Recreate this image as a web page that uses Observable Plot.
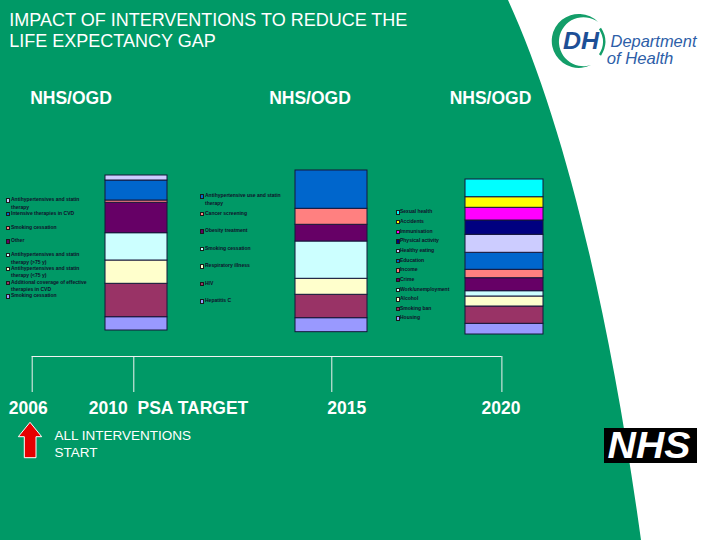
<!DOCTYPE html>
<html lang="en">
<head>
<meta charset="utf-8">
<title>Impact of interventions to reduce the life expectancy gap</title>
<script src="https://cdn.jsdelivr.net/npm/d3@7"></script>
<script src="https://cdn.jsdelivr.net/npm/@observablehq/plot@0.6"></script>
<style>
  html, body { margin: 0; padding: 0; background: #fff; }
  #slide { position: relative; width: 720px; height: 540px; overflow: hidden;
           font-family: "Liberation Sans", Arial, sans-serif; }
  .layer { position: absolute; left: 0; top: 0; }
  .holder { position: absolute; z-index: 1; }
  .legend-item { position: absolute; z-index: 1; font-size: 5px; line-height: 7.4px;
                 font-weight: bold; color: #10102a; }
  .legend-item .swatch { position: absolute; left: 0; top: 2px; width: 2.4px; height: 2.4px;
                         border: 0.6px solid #1a1a1a; }
  .legend-item .text { position: absolute; top: 0; }
  #overlay { z-index: 2; pointer-events: none; }
</style>
</head>
<body>
<div id="slide">
  <svg class="layer" width="720" height="540">
    <rect width="720" height="540" fill="#009966"/>
    <path d="M508,0 C565,125 610,315 641,540 L720,540 L720,0 Z" fill="#ffffff"/>
  </svg>
  <svg id="overlay" class="layer" width="720" height="540" font-family="'Liberation Sans', Arial, sans-serif">
    <g fill="#ffffff" font-size="18">
      <text x="9.3" y="26">IMPACT OF INTERVENTIONS TO REDUCE THE</text>
      <text x="9.3" y="47">LIFE EXPECTANCY GAP</text>
    </g>
    <g id="headings" fill="#ffffff" font-size="17.5" font-weight="bold" text-anchor="middle"></g>
    <!-- start marker under 2006 -->
    <path d="M30,422.3 L41.7,436.7 L36,436.7 L36,457.7 L24.3,457.7 L24.3,436.7 L18.3,436.7 Z"
          fill="#e60000" stroke="#ffffff" stroke-width="1"/>
    <g fill="#ffffff" font-size="13.5">
      <text x="54.5" y="440">ALL INTERVENTIONS</text>
      <text x="54.5" y="456.7">START</text>
    </g>
    <!-- Department of Health logo -->
    <path d="M598,22 A27,27 0 1 0 591,65 A24.5,24.5 0 1 1 598,22 Z" fill="#139e69"/>
    <path d="M600,28.5 Q608.5,41.5 600,55" fill="none" stroke="#139e69" stroke-width="2.4"/>
    <text x="563" y="49.3" font-size="24" font-weight="bold" font-style="italic" fill="#1d4f96"
          textLength="36" lengthAdjust="spacingAndGlyphs">DH</text>
    <g fill="#2d5ea8" font-size="16.5" font-style="italic">
      <text x="610.5" y="47.2" textLength="86" lengthAdjust="spacingAndGlyphs">Department</text>
      <text x="606.7" y="63.6" textLength="66.6" lengthAdjust="spacingAndGlyphs">of Health</text>
    </g>
    <!-- NHS logo -->
    <rect x="604" y="428" width="93" height="35" fill="#000000"/>
    <text x="607.5" y="458.3" font-size="36" font-weight="bold" font-style="italic" fill="#ffffff"
          textLength="83" lengthAdjust="spacingAndGlyphs">NHS</text>
  </svg>
</div>
<script>
// Excel chart fills, in series order from the bottom of a stack upwards
const palette = ["#9999ff", "#993366", "#ffffcc", "#ccffff", "#660066", "#ff8080",
                 "#0066cc", "#ccccff", "#000080", "#ff00ff", "#ffff00", "#00ffff"];

// Interventions behind each column, top segment first, with their share of the gap
const interventions2010 = [
  "Antihypertensives and statin therapy",
  "Intensive therapies in CVD",
  "Smoking cessation",
  "Other",
  "Antihypertensives and statin therapy (>75 y)",
  "Antihypertensives and statin therapy (<75 y)",
  "Additional coverage of effective therapies in CVD",
  "Smoking cessation"
];
const impact2010 = [5, 20, 2.3, 30.4, 27.3, 23.3, 33.4, 13.3];

const interventions2015 = [
  "Antihypertensive use and statin therapy",
  "Cancer screening",
  "Obesity treatment",
  "Smoking cessation",
  "Respiratory illness",
  "HIV",
  "Hepatitis C"
];
const impact2015 = [38.3, 16, 16.7, 37.3, 16, 23.4, 14];

const interventions2020 = [
  "Sexual health", "Accidents", "Immunisation", "Physical activity", "Healthy eating",
  "Education", "Income", "Crime", "Work/unemployment", "Alcohol", "Smoking ban", "Housing"
];
const impact2020 = [17.7, 10.6, 12.7, 14.3, 18, 17, 8.4, 13, 5.3, 10, 17.3, 10.7];

const columnHeadings = ["NHS/OGD", "NHS/OGD", "NHS/OGD"];

const timelineYears = [2006, 2010, 2015, 2020];
const timelineLabels = ["2006", "2010\u00a0\u00a0PSA TARGET", "2015", "2020"];

const slide = document.getElementById("slide");

// One stacked column; one value unit is drawn as one pixel of height
function column(labels, values, box) {
  const n = labels.length;
  const rows = labels.map((label, i) => ({label, value: values[i], level: n - 1 - i})).reverse();
  const total = d3.sum(values);
  const svg = Plot.plot({
    width: box.width + 2,
    height: total + 2,
    margin: 1,
    style: {background: "none", overflow: "visible"},
    y: {axis: null, domain: [0, total]},
    color: {type: "ordinal", domain: d3.range(n), range: palette.slice(0, n)},
    marks: [
      Plot.barY(rows, Plot.stackY({y: "value", fill: "level", stroke: "#16163a", strokeWidth: 1}))
    ]
  });
  const holder = document.createElement("div");
  holder.className = "holder";
  holder.style.left = (box.left - 1) + "px";
  holder.style.top = (box.bottom - total - 1) + "px";
  holder.append(svg);
  slide.append(holder);
}

// Legend list beside a column, in the same top-down order as its segments
function legend(labels, box) {
  const n = labels.length;
  labels.forEach((label, i) => {
    const item = document.createElement("div");
    item.className = "legend-item";
    item.style.left = box.left + "px";
    item.style.top = (box.top + i * box.step - 3.7) + "px";
    const swatch = document.createElement("span");
    swatch.className = "swatch";
    swatch.style.background = palette[n - 1 - i];
    const text = document.createElement("span");
    text.className = "text";
    text.style.left = box.indent + "px";
    text.style.width = box.wrap + "px";
    text.textContent = label;
    item.append(swatch, text);
    slide.append(item);
  });
}

column(interventions2010, impact2010, {left: 105, bottom: 330, width: 62});
column(interventions2015, impact2015, {left: 295, bottom: 331.7, width: 72});
column(interventions2020, impact2020, {left: 465, bottom: 334, width: 78});

legend(interventions2010, {left: 6, top: 200, step: 13.7, indent: 5, wrap: 82});
legend(interventions2015, {left: 200, top: 196, step: 17.5, indent: 5, wrap: 82});
legend(interventions2020, {left: 395.7, top: 212, step: 9.65, indent: 4.3, wrap: 90});

// Column headings
const headings = d3.select("#headings");
[71, 310, 490.5].forEach((cx, i) => {
  headings.append("text").attr("x", cx).attr("y", 104).text(columnHeadings[i]);
});

// Timeline: a bracket with a tick at each milestone year (piecewise linear in time)
const labelShift = [{dx: -4}, {dx: -45, textAnchor: "start"}, {dx: 15}, {dx: -1}];
const timeline = Plot.plot({
  width: 720,
  height: 80,
  marginTop: 11,
  marginBottom: 33,
  marginLeft: 0,
  marginRight: 0,
  style: {background: "none", overflow: "visible"},
  x: {type: "linear", axis: null, domain: timelineYears, range: [31.7, 133.3, 331.3, 501.4]},
  y: {axis: null, domain: [0, 1]},
  marks: [
    Plot.ruleY([1], {x1: d3.min(timelineYears), x2: d3.max(timelineYears), stroke: "#f2f2f2", strokeWidth: 1}),
    Plot.ruleX(timelineYears, {y1: 0, y2: 1, stroke: "#f2f2f2", strokeWidth: 1}),
    ...timelineYears.map((year, i) => Plot.text([year], {
      x: (d) => d,
      text: () => timelineLabels[i],
      frameAnchor: "bottom",
      dy: 21,
      fill: "#ffffff",
      fontSize: 17.5,
      fontWeight: "bold",
      fontFamily: "'Liberation Sans', Arial, sans-serif",
      ...labelShift[i]
    }))
  ]
});
const timelineHolder = document.createElement("div");
timelineHolder.className = "holder";
timelineHolder.style.left = "0px";
timelineHolder.style.top = "345px";
timelineHolder.append(timeline);
slide.append(timelineHolder);
</script>
</body>
</html>
